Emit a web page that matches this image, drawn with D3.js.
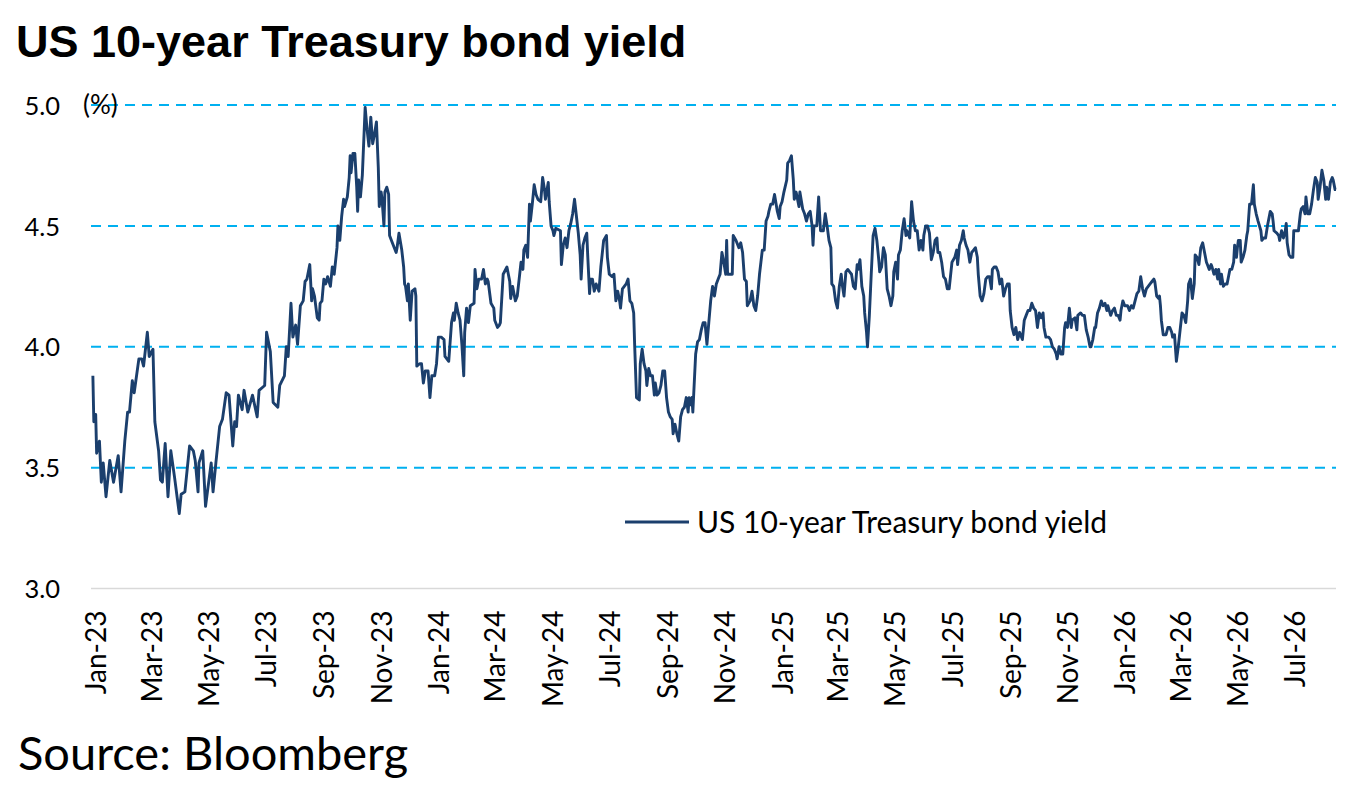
<!DOCTYPE html>
<html>
<head>
<meta charset="utf-8">
<script src="https://cdn.jsdelivr.net/npm/d3@7"></script>
<style>
  html, body { margin: 0; padding: 0; background: #fff; }
  svg text { font-family: Lato, "Noto Sans", sans-serif; fill: #000; }
  .title { font-family: "Liberation Sans", Arial, sans-serif; font-weight: bold; }
</style>
</head>
<body>
<div id="chart"></div>
<script>
// daily closes, per year ("MM-DD" and yield in %)
const days2023 = ["01-03","01-04","01-06","01-07","01-10","01-12","01-14","01-17","01-21","01-25","01-30","02-02","02-06","02-09","02-11","02-14","02-16","02-21","02-24","02-26","03-02","03-04","03-08","03-10","03-14","03-16","03-18","03-21","03-24","03-27","03-31","04-05","04-07","04-11","04-16","04-20","04-22","04-25","04-26","04-30","05-03","05-09","05-11","05-14","05-18","05-21","05-25","05-28","06-01","06-03","06-05","06-07","06-11","06-13","06-17","06-22","06-27","06-29","07-05","07-07","07-11","07-14","07-19","07-21","07-26","07-28","07-30","08-02","08-04","08-07","08-09","08-12","08-15","08-17","08-19","08-22","08-24","08-25","08-27","08-30","09-01","09-02","09-04","09-06","09-08","09-10","09-13","09-15","09-17","09-20","09-21","09-23","09-25","09-27","09-28","10-01","10-03","10-04","10-05","10-07","10-09","10-11","10-12","10-13","10-15","10-17","10-20","10-22","10-24","10-26","10-28","10-30","11-01","11-03","11-04","11-06","11-07","11-09","11-10","11-12","11-14","11-15","11-17","11-20","11-22","11-23","11-25","11-28","11-30","12-01","12-02","12-04","12-05","12-07","12-09","12-12","12-13","12-14","12-17","12-19","12-21","12-23","12-26","12-28","12-30"];
const yields2023 = [3.88,3.69,3.72,3.56,3.61,3.44,3.52,3.38,3.53,3.44,3.55,3.40,3.61,3.73,3.73,3.86,3.81,3.95,3.95,3.92,4.06,3.96,3.99,3.69,3.57,3.45,3.44,3.60,3.38,3.57,3.46,3.31,3.39,3.40,3.59,3.57,3.53,3.40,3.52,3.57,3.34,3.52,3.40,3.52,3.67,3.70,3.81,3.80,3.59,3.69,3.67,3.80,3.74,3.82,3.73,3.80,3.71,3.82,3.84,4.06,3.98,3.77,3.75,3.84,3.88,4.00,3.96,4.18,4.04,4.09,4.01,4.17,4.19,4.27,4.28,4.34,4.19,4.24,4.21,4.12,4.11,4.18,4.19,4.28,4.26,4.29,4.25,4.33,4.30,4.41,4.50,4.44,4.54,4.61,4.58,4.62,4.70,4.79,4.72,4.80,4.80,4.66,4.56,4.69,4.62,4.71,4.99,4.90,4.83,4.95,4.84,4.88,4.93,4.74,4.58,4.64,4.61,4.50,4.64,4.66,4.63,4.46,4.44,4.41,4.39,4.41,4.47,4.40,4.33,4.26,4.25,4.19,4.26,4.11,4.23,4.24,4.21,3.92,3.93,3.93,3.85,3.90,3.90,3.79,3.88];

const days2024 = ["01-02","01-04","01-06","01-09","01-12","01-13","01-17","01-20","01-22","01-23","01-25","01-27","01-29","01-31","02-02","02-03","02-05","02-07","02-09","02-13","02-14","02-16","02-18","02-21","02-23","02-25","02-27","02-28","03-02","03-05","03-06","03-09","03-11","03-12","03-15","03-19","03-22","03-23","03-25","03-28","03-30","04-01","04-03","04-05","04-06","04-08","04-10","04-12","04-13","04-15","04-17","04-19","04-21","04-24","04-26","04-28","04-29","05-02","05-03","05-05","05-07","05-08","05-10","05-15","05-16","05-18","05-20","05-22","05-24","05-26","05-28","05-30","06-01","06-03","06-05","06-06","06-08","06-10","06-12","06-13","06-15","06-16","06-18","06-20","06-22","06-23","06-25","06-27","06-30","07-03","07-04","07-06","07-09","07-11","07-13","07-15","07-17","07-18","07-20","07-22","07-24","07-26","07-28","07-30","08-01","08-02","08-04","08-07","08-08","08-10","08-12","08-14","08-15","08-17","08-19","08-21","08-23","08-24","08-26","08-28","08-30","09-01","09-03","09-05","09-07","09-09","09-11","09-12","09-14","09-16","09-18","09-20","09-22","09-24","09-26","09-28","09-29","09-30","10-02","10-03","10-06","10-08","10-10","10-12","10-14","10-16","10-18","10-20","10-22","10-24","10-26","10-28","10-30","11-01","11-03","11-05","11-07","11-08","11-09","11-11","11-14","11-15","11-18","11-21","11-23","11-25","11-27","11-29","11-30","12-03","12-05","12-07","12-09","12-11","12-13","12-16","12-18","12-20","12-22","12-23","12-25","12-27","12-29"];
const yields2024 = [3.88,3.93,4.04,4.04,4.03,3.96,3.94,4.10,4.14,4.11,4.18,4.14,4.11,4.01,3.88,4.06,4.16,4.10,4.17,4.18,4.32,4.24,4.28,4.28,4.32,4.26,4.28,4.27,4.18,4.16,4.11,4.08,4.09,4.10,4.30,4.33,4.27,4.20,4.25,4.19,4.21,4.28,4.35,4.32,4.40,4.42,4.37,4.59,4.52,4.59,4.67,4.63,4.61,4.60,4.70,4.65,4.61,4.68,4.60,4.50,4.48,4.46,4.49,4.48,4.34,4.42,4.45,4.41,4.48,4.51,4.55,4.61,4.54,4.47,4.38,4.28,4.42,4.45,4.47,4.38,4.22,4.28,4.28,4.23,4.26,4.25,4.23,4.33,4.44,4.46,4.37,4.30,4.29,4.30,4.19,4.23,4.19,4.16,4.24,4.25,4.26,4.28,4.19,4.18,4.14,4.01,3.79,3.78,3.93,3.99,3.93,3.90,3.84,3.91,3.88,3.88,3.80,3.85,3.80,3.81,3.84,3.90,3.90,3.79,3.73,3.71,3.70,3.64,3.68,3.64,3.61,3.71,3.74,3.75,3.79,3.73,3.79,3.76,3.79,3.73,3.97,4.02,4.03,4.07,4.10,4.10,4.01,4.10,4.19,4.25,4.21,4.26,4.28,4.30,4.39,4.35,4.30,4.44,4.30,4.30,4.30,4.46,4.44,4.41,4.43,4.39,4.28,4.27,4.17,4.19,4.23,4.17,4.15,4.21,4.30,4.40,4.40,4.52,4.54,4.56,4.59,4.59,4.63];

const days2025 = ["01-01","01-03","01-04","01-06","01-08","01-11","01-12","01-14","01-16","01-18","01-19","01-21","01-24","01-25","01-28","01-30","02-01","02-03","02-05","02-07","02-08","02-09","02-12","02-14","02-16","02-19","02-21","02-23","02-25","02-27","02-28","03-02","03-04","03-06","03-08","03-10","03-11","03-13","03-15","03-17","03-19","03-21","03-23","03-25","03-27","03-28","03-30","04-01","04-03","04-04","04-06","04-07","04-09","04-11","04-13","04-15","04-17","04-19","04-20","04-22","04-24","04-26","04-28","04-30","05-02","05-04","05-05","05-07","05-09","05-10","05-12","05-14","05-16","05-18","05-19","05-22","05-24","05-26","05-28","05-30","06-01","06-03","06-05","06-06","06-08","06-10","06-12","06-14","06-16","06-18","06-20","06-21","06-23","06-25","06-27","06-29","07-01","07-03","07-06","07-09","07-11","07-12","07-14","07-16","07-18","07-19","07-21","07-23","07-25","07-27","07-29","07-31","08-02","08-03","08-05","08-07","08-09","08-11","08-13","08-15","08-17","08-18","08-20","08-22","08-24","08-26","08-28","08-30","09-01","09-03","09-05","09-06","09-08","09-10","09-12","09-14","09-16","09-17","09-19","09-21","09-23","09-25","09-27","09-29","10-01","10-03","10-05","10-07","10-09","10-11","10-12","10-14","10-17","10-19","10-21","10-23","10-25","10-26","10-28","10-30","11-01","11-03","11-04","11-06","11-08","11-10","11-11","11-14","11-16","11-17","11-20","11-22","11-24","11-26","11-28","11-30","12-01","12-03","12-05","12-06","12-08","12-10","12-12","12-14","12-16","12-18","12-19","12-22","12-24","12-26","12-28","12-30"];
const yields2025 = [4.56,4.53,4.58,4.60,4.64,4.69,4.76,4.77,4.79,4.69,4.61,4.64,4.58,4.64,4.57,4.55,4.52,4.55,4.56,4.50,4.42,4.50,4.50,4.62,4.48,4.48,4.55,4.50,4.44,4.41,4.26,4.25,4.19,4.16,4.25,4.30,4.26,4.21,4.31,4.32,4.31,4.30,4.25,4.24,4.34,4.32,4.36,4.25,4.21,4.14,4.06,4.00,4.13,4.30,4.46,4.49,4.44,4.36,4.31,4.33,4.41,4.38,4.24,4.21,4.17,4.21,4.31,4.35,4.28,4.38,4.40,4.48,4.53,4.46,4.48,4.45,4.60,4.52,4.48,4.48,4.40,4.44,4.40,4.46,4.50,4.50,4.47,4.36,4.39,4.44,4.45,4.39,4.39,4.35,4.29,4.28,4.24,4.24,4.35,4.37,4.40,4.34,4.42,4.44,4.48,4.45,4.42,4.40,4.35,4.39,4.40,4.41,4.37,4.30,4.21,4.19,4.22,4.28,4.29,4.29,4.24,4.32,4.33,4.33,4.31,4.26,4.28,4.21,4.24,4.26,4.26,4.15,4.08,4.05,4.08,4.03,4.06,4.05,4.03,4.11,4.13,4.15,4.15,4.18,4.16,4.15,4.08,4.14,4.12,4.14,4.08,4.04,4.04,4.03,4.00,3.99,3.97,3.95,4.00,3.97,3.97,4.08,4.10,4.08,4.16,4.08,4.11,4.12,4.07,4.13,4.14,4.13,4.13,4.07,4.04,4.00,4.00,4.03,4.08,4.08,4.14,4.16,4.19,4.17,4.18,4.15,4.17,4.13,4.15,4.16,4.13,4.13];

const days2026 = ["01-01","01-02","01-04","01-06","01-08","01-09","01-11","01-13","01-15","01-17","01-19","01-21","01-23","01-25","01-27","01-29","01-31","02-02","02-04","02-06","02-07","02-09","02-11","02-12","02-13","02-14","02-16","02-19","02-21","02-23","02-25","02-26","02-28","03-02","03-04","03-06","03-08","03-10","03-12","03-14","03-15","03-17","03-19","03-21","03-22","03-24","03-26","03-28","03-30","04-01","04-03","04-04","04-06","04-08","04-09","04-11","04-13","04-15","04-16","04-18","04-19","04-21","04-23","04-25","04-27","04-28","04-30","05-02","05-03","05-05","05-06","05-07","05-09","05-10","05-12","05-14","05-16","05-17","05-19","05-21","05-23","05-24","05-26","05-28","05-31","06-01","06-03","06-05","06-07","06-08","06-10","06-12","06-13","06-14","06-17","06-19","06-20","06-22","06-24","06-26","06-27","06-28","06-30","07-02","07-04","07-05","07-07","07-10","07-12","07-13","07-15","07-17","07-18","07-20","07-22","07-24","07-26","07-28","07-30","07-31","08-02","08-04","08-06","08-08","08-09","08-11","08-13","08-15","08-16","08-18","08-19"];
const yields2026 = [4.11,4.15,4.19,4.17,4.17,4.17,4.15,4.17,4.16,4.19,4.22,4.23,4.29,4.24,4.21,4.24,4.25,4.26,4.27,4.28,4.27,4.21,4.20,4.21,4.17,4.11,4.05,4.05,4.08,4.08,4.06,4.04,4.05,3.94,4.00,4.07,4.14,4.13,4.10,4.19,4.26,4.28,4.20,4.26,4.38,4.37,4.34,4.41,4.43,4.39,4.35,4.34,4.32,4.34,4.33,4.30,4.32,4.28,4.32,4.26,4.30,4.25,4.26,4.26,4.30,4.32,4.32,4.35,4.42,4.37,4.41,4.44,4.44,4.35,4.37,4.40,4.46,4.48,4.59,4.59,4.67,4.59,4.55,4.52,4.48,4.44,4.45,4.45,4.50,4.52,4.56,4.55,4.52,4.48,4.47,4.46,4.44,4.48,4.45,4.48,4.51,4.43,4.38,4.37,4.37,4.48,4.48,4.48,4.55,4.57,4.58,4.55,4.62,4.55,4.55,4.59,4.65,4.70,4.68,4.61,4.66,4.73,4.69,4.61,4.66,4.61,4.68,4.70,4.69,4.65,4.65];

const yTicks = [3.0, 3.5, 4.0, 4.5, 5.0];
const tickMonths = ["2023-01","2023-03","2023-05","2023-07","2023-09","2023-11","2024-01","2024-03","2024-05","2024-07","2024-09","2024-11","2025-01","2025-03","2025-05","2025-07","2025-09","2025-11","2026-01","2026-03","2026-05","2026-07"];
const seriesName = "US 10-year Treasury bond yield";

const width = 1347, height = 797;
const plot = { left: 91, right: 1336, top: 105, bottom: 588.6 };

const parseDay = d3.timeParse("%Y-%m-%d");
const parseMonth = d3.timeParse("%Y-%m");
const years = [
  [2023, days2023, yields2023],
  [2024, days2024, yields2024],
  [2025, days2025, yields2025],
  [2026, days2026, yields2026]
];
const data = [];
years.forEach(([yr, days, vals]) => {
  days.forEach((d, i) => data.push({ date: parseDay(yr + "-" + d), value: vals[i] }));
});

const svg = d3.select("#chart").append("svg")
  .attr("width", width)
  .attr("height", height)
  .attr("viewBox", [0, 0, width, height]);

const xScale = d3.scaleTime()
  .domain([parseDay("2023-01-01"), data[data.length - 1].date])
  .range([plot.left, plot.right]);

const yScale = d3.scaleLinear()
  .domain([3.0, 5.0])
  .range([plot.bottom, plot.top]);

// title
svg.append("text")
  .attr("class", "title")
  .attr("x", 16)
  .attr("y", 57)
  .style("font-size", "45px")
  .text(seriesName);

// y labels
const yAxis = d3.axisLeft(yScale)
  .tickValues(yTicks)
  .tickSize(0)
  .tickPadding(0)
  .tickFormat(d3.format(".1f"));

const gy = svg.append("g")
  .attr("transform", `translate(60,0)`)
  .call(yAxis);
gy.select(".domain").remove();
gy.selectAll("text")
  .attr("x", 0)
  .attr("dy", "0.36em")
  .style("font-size", "25.5px")
  .style("font-family", "Lato, sans-serif")
  .attr("fill", "#000");

// gridlines (dashed) and the 3.0 base line
svg.append("g")
  .selectAll("line")
  .data(yTicks)
  .join("line")
  .attr("x1", plot.left)
  .attr("x2", plot.right)
  .attr("y1", d => yScale(d))
  .attr("y2", d => yScale(d))
  .attr("stroke", d => d === 3.0 ? "#d9d9d9" : "#00b0f0")
  .attr("stroke-width", d => d === 3.0 ? 1.5 : 2)
  .attr("stroke-dasharray", d => d === 3.0 ? null : "10,7");

svg.append("text")
  .attr("x", 83)
  .attr("y", yScale(5.0))
  .attr("dy", "0.36em")
  .style("font-size", "26px")
  .text("(%)");

// x axis labels, rotated
const xAxis = d3.axisBottom(xScale)
  .tickValues(tickMonths.map(parseMonth))
  .tickSize(0)
  .tickFormat(d3.timeFormat("%b-%y"));

const gx = svg.append("g")
  .attr("transform", `translate(0,${plot.bottom})`)
  .call(xAxis);
gx.select(".domain").remove();
gx.selectAll("text")
  .attr("transform", "rotate(-90)")
  .attr("text-anchor", "end")
  .attr("x", -22)
  .attr("y", 5)
  .attr("dy", "0.35em")
  .style("font-size", "28px")
  .style("font-family", "Lato, sans-serif")
  .attr("fill", "#000");

// series line
const line = d3.line()
  .x(d => xScale(d.date))
  .y(d => yScale(d.value));

svg.append("path")
  .datum(data)
  .attr("fill", "none")
  .attr("stroke", "#1b3f6d")
  .attr("stroke-width", 2.9)
  .attr("stroke-linejoin", "round")
  .attr("d", line);

// legend
const legend = svg.append("g").attr("transform", "translate(625,522)");
legend.append("line")
  .attr("x1", 0).attr("x2", 64)
  .attr("stroke", "#1b3f6d")
  .attr("stroke-width", 2.9);
legend.append("text")
  .attr("x", 72)
  .attr("dy", "0.35em")
  .style("font-size", "30px")
  .text(seriesName);

// source
svg.append("text")
  .attr("x", 18)
  .attr("y", 770)
  .style("font-size", "47px")
  .text("Source: Bloomberg");
</script>
</body>
</html>
